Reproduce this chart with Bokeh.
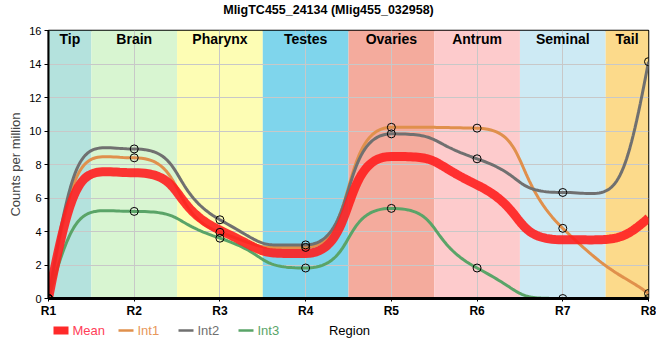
import numpy as np
from bokeh.plotting import figure
from bokeh.layouts import column
from bokeh.models import FixedTicker, ColumnDataSource
from bokeh.core.properties import value
from bokeh.embed import file_html
from bokeh.resources import INLINE

# ---- data ----
title_text = "MligTC455_24134 (Mlig455_032958)"
regions = ["R1", "R2", "R3", "R4", "R5", "R6", "R7", "R8"]
region_pos = [1, 2, 3, 4, 5, 6, 7, 8]
int1 = [0.0, 8.4, 3.95, 3.05, 10.22, 10.17, 4.19, 0.3]
int2 = [0.0, 8.93, 4.7, 3.2, 9.83, 8.34, 6.33, 14.14]
int3 = [0.0, 5.2, 3.6, 1.82, 5.38, 1.82, 0.0, 0.0]
mean = [0.0, 7.51, 4.08, 2.69, 8.48, 6.78, 3.51, 4.81]

band_names = ["Tip", "Brain", "Pharynx", "Testes", "Ovaries", "Antrum", "Seminal", "Tail"]
band_left = [1.0, 1.5, 2.5, 3.5, 4.5, 5.5, 6.5, 7.5]
band_right = [1.5, 2.5, 3.5, 4.5, 5.5, 6.5, 7.5, 8.0]
band_colors = ["#b4e2dd", "#d8f5d1", "#fdfdb4", "#7fd5ec", "#f4ab9d", "#fdcbcc", "#cdeaf4", "#fcda8b"]

legend_labels = ["Mean", "Int1", "Int2", "Int3"]
line_colors = ["#ff1f1f", "#e0904c", "#707070", "#5aa468"]
label_colors = ["#ff4058", "#e8975a", "#707070", "#5aa468"]

FONT = "Liberation Sans"
W = 656


def smooth_path(xs, ys, a=0.6, n=40):
    """Smooth interpolating path: cubic Bezier segments, flat at local extrema."""
    xs = np.asarray(xs, float)
    ys = np.asarray(ys, float)
    k = len(xs)
    h = np.diff(xs)
    s = np.diff(ys) / h
    t = np.zeros(k)
    for i in range(1, k - 1):
        h0, h1 = h[i - 1], h[i]
        s0, s1 = s[i - 1], s[i]
        p = (s0 * h1 + s1 * h0) / (h0 + h1)
        t[i] = (np.sign(s0) + np.sign(s1)) * min(abs(s0), abs(s1), 0.5 * abs(p))
    for e, nb, sl in ((0, 1, s[0]), (k - 1, k - 2, s[-1])):
        v = 3.5 * sl - 2.0 * t[nb]
        if np.sign(v) != np.sign(sl):
            v = 0.0
        t[e] = v
    ox, oy = [], []
    for i in range(k - 1):
        la = h[i] / 3 if i == 0 else a * h[i]
        lb = h[i] / 3 if i == k - 2 else a * h[i]
        P0 = (xs[i], ys[i])
        P1 = (xs[i] + la, ys[i] + la * t[i])
        P2 = (xs[i + 1] - lb, ys[i + 1] - lb * t[i + 1])
        P3 = (xs[i + 1], ys[i + 1])
        u = np.linspace(0, 1, n)
        if i > 0:
            u = u[1:]
        b0 = (1 - u) ** 3
        b1 = 3 * (1 - u) ** 2 * u
        b2 = 3 * (1 - u) * u ** 2
        b3 = u ** 3
        ox.extend(b0 * P0[0] + b1 * P1[0] + b2 * P2[0] + b3 * P3[0])
        oy.extend(b0 * P0[1] + b1 * P1[1] + b2 * P2[1] + b3 * P3[1])
    return ox, oy


def bare(height):
    f = figure(width=W, height=height, x_range=(0, W), y_range=(0, height),
               output_backend="svg", toolbar_location=None,
               x_axis_type=None, y_axis_type=None, frame_align=False,
               min_border_left=0, min_border_right=0, min_border_top=0, min_border_bottom=0)
    f.outline_line_color = None
    f.xgrid.visible = False
    f.ygrid.visible = False
    f.background_fill_color = None
    f.border_fill_color = None
    return f


# ---- header with the title ----
head = bare(18)
head.text(x=[328], y=[9], text=[title_text], text_align="center", text_baseline="middle",
          text_font=value(FONT), text_font_size="12.5px", text_font_style="bold",
          text_color="black")

# ---- main chart ----
p = figure(width=W, height=302, x_range=(1, 8), y_range=(0, 16),
           output_backend="svg", toolbar_location=None, frame_align=False,
           min_border_left=48, min_border_right=8, min_border_top=12,
           min_border_bottom=20)
p.background_fill_color = "white"
p.border_fill_color = "white"
p.outline_line_color = "black"
p.outline_line_width = 1.5

bands = ColumnDataSource(dict(left=band_left, right=band_right, color=band_colors,
                              name=band_names,
                              mid=[(a + b) / 2 for a, b in zip(band_left, band_right)],
                              top=[16] * len(band_names)))
p.quad(left="left", right="right", bottom=0, top=16, fill_color="color",
       line_color=None, source=bands, level="image")
p.text(x="mid", y="top", text="name", source=bands, text_align="center",
       text_baseline="top", y_offset=0, text_font=value(FONT),
       text_font_size="14px", text_font_style="bold", text_color="black")

p.xgrid.grid_line_color = "#c8c8c8"
p.ygrid.grid_line_color = "#c8c8c8"
p.xgrid.ticker = FixedTicker(ticks=region_pos)
p.ygrid.ticker = FixedTicker(ticks=list(range(0, 17, 2)))

series = [(int1, line_colors[1]), (int2, line_colors[2]), (int3, line_colors[3])]
for ys, col in series:
    sx, sy = smooth_path(region_pos, ys)
    p.line(sx, sy, line_color=col, line_width=3)
mx, my = smooth_path(region_pos, mean)
p.line(mx, my, line_color=line_colors[0], line_width=9, line_alpha=0.9)
for ys, col in series:
    p.scatter(region_pos, ys, size=8, marker="circle", fill_color=None,
              line_color="black", line_width=1)

p.xaxis.ticker = FixedTicker(ticks=region_pos)
p.xaxis.major_label_overrides = {k: v for k, v in zip(region_pos, regions)}
p.xaxis.major_label_text_font = FONT
p.xaxis.major_label_text_font_style = "bold"
p.xaxis.major_label_text_font_size = "12px"
p.xaxis.major_label_text_color = "black"
p.xaxis.major_label_standoff = 2
p.xaxis.axis_line_width = 3
p.xaxis.axis_line_color = "black"
p.xaxis.major_tick_out = 3
p.xaxis.major_tick_in = 0
p.xaxis.minor_tick_line_color = None

p.yaxis.ticker = FixedTicker(ticks=list(range(0, 17, 2)))
p.yaxis.major_label_text_font = FONT
p.yaxis.major_label_text_font_size = "11px"
p.yaxis.major_label_text_color = "black"
p.yaxis.major_label_standoff = 3
p.yaxis.axis_line_width = 2
p.yaxis.axis_line_color = "black"
p.yaxis.major_tick_out = 4
p.yaxis.major_tick_in = 0
p.yaxis.minor_tick_line_color = None
p.yaxis.axis_label = "Counts per million"
p.yaxis.axis_label_text_font = FONT
p.yaxis.axis_label_text_font_style = "normal"
p.yaxis.axis_label_text_font_size = "13px"
p.yaxis.axis_label_standoff = 3

# ---- footer: legend + axis title ----
foot = bare(24)
sw_x = [53, 118, 178, 238]          # left edge of each legend swatch
foot.rect(x=[sw_x[0] + 7.5], y=[14], width=15, height=8, fill_color=line_colors[0],
          line_color=None, fill_alpha=0.95)
foot.segment(x0=sw_x[1:], y0=[14] * 3, x1=[v + 15 for v in sw_x[1:]], y1=[14] * 3,
             line_color=line_colors[1:], line_width=2.5)
foot.text(x=[v + 19 for v in sw_x], y=[14] * 4, text=legend_labels, text_color=label_colors,
          text_align="left", text_baseline="middle", text_font=value(FONT),
          text_font_size="13px")
foot.text(x=[349], y=[14], text=["Region"], text_align="center", text_baseline="middle",
          text_font=value(FONT), text_font_size="13px", text_color="black")

layout = column(head, p, foot, spacing=0)
open("out.html", "w").write(file_html(layout, INLINE))
